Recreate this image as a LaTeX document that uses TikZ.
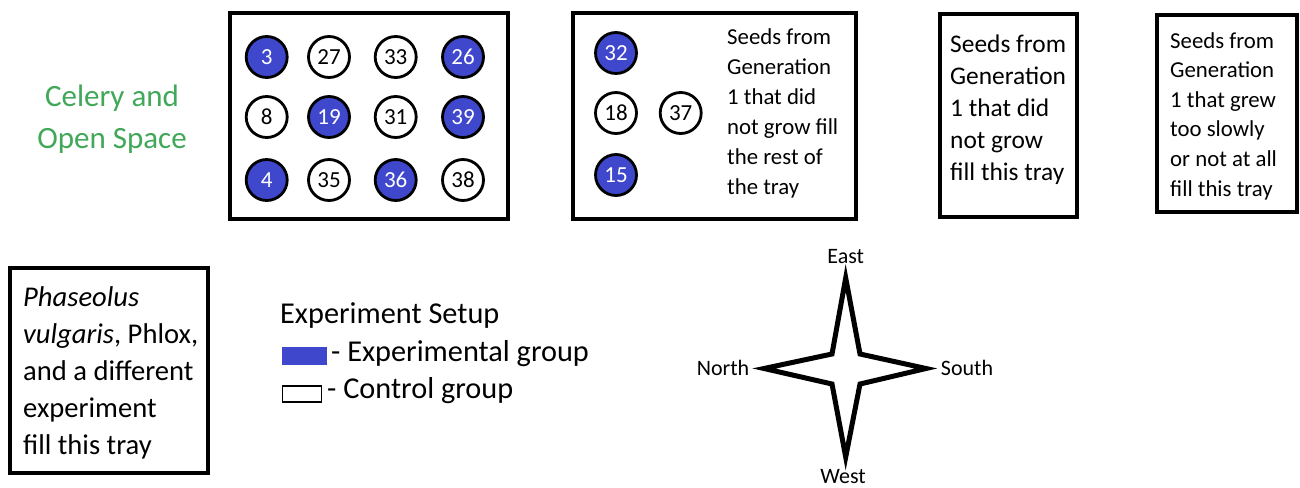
\documentclass[tikz,border=0pt]{standalone}
\usepackage{fontspec}
\setmainfont{Carlito}
\definecolor{expblue}{RGB}{63,72,204}
\definecolor{celgreen}{RGB}{64,168,88}
\tikzset{
  tray/.style={draw=black, line width=3.8pt},
  expc/.style={circle, draw=black, line width=2.8pt, fill=expblue, text=white, minimum size=41pt, inner sep=0pt, font=\fontsize{23}{23}\selectfont},
  ctlc/.style={circle, draw=black, line width=2.8pt, fill=white, text=black, minimum size=41pt, inner sep=0pt, font=\fontsize{23}{23}\selectfont},
  txt/.style={anchor=west, inner sep=0pt, align=left},
  legtxt/.style={txt, font=\fontsize{30.3}{30}\selectfont},
}
\begin{document}
\begin{tikzpicture}[x=1pt,y=-1pt]
\useasboundingbox[fill=white] (0,0) rectangle (1300,487);
% trays
\draw[tray] (230,13) rectangle (508,219);
\draw[tray] (573,13) rectangle (856,219);
\draw[tray] (940,14) rectangle (1077,217);
\draw[tray] (1157,15) rectangle (1297,212);
\draw[tray] (10,268) rectangle (208,473);
% tray 1 circles
\node[expc] (c3)  at (266.7,57) {3};
\node[ctlc] (c27) at (329,57) {27};
\node[ctlc] (c33) at (395.7,57) {33};
\node[expc] (c26) at (463,57) {26};
\node[ctlc] (c8)  at (266.7,117) {8};
\node[expc] (c19) at (329,117) {19};
\node[ctlc] (c31) at (395.7,117) {31};
\node[expc] (c39) at (463,117) {39};
\node[expc] (c4)  at (266.7,180) {4};
\node[ctlc] (c35) at (329,180) {35};
\node[expc] (c36) at (395.7,180) {36};
\node[ctlc] (c38) at (463,180) {38};
% tray 2 circles
\node[expc] (c32) at (616,53) {32};
\node[ctlc] (c18) at (616,113) {18};
\node[ctlc] (c37) at (680.7,113) {37};
\node[expc] (c15) at (616,175) {15};
% texts
\node[text=celgreen, align=center, font=\fontsize{31}{42}\selectfont] (cel) at (112,119) {Celery and\\Open Space};
\node[txt, font=\fontsize{22.8}{30}\selectfont] (t2) at (727,113) {Seeds from\\Generation\\1 that did\\not grow fill\\the rest of\\the tray};
\node[txt, font=\fontsize{25.4}{32}\selectfont] (t3) at (950,110) {Seeds from\\Generation\\1 that did\\not grow\\fill this tray};
\node[txt, font=\fontsize{22.8}{29.6}\selectfont] (t4) at (1170,116) {Seeds from\\Generation\\1 that grew\\too slowly\\or not at all\\fill this tray};
\node[txt, font=\fontsize{28.6}{37}\selectfont] (t5) at (23,372.5) {\textit{Phaseolus}\\\textit{vulgaris}, Phlox,\\and a different\\experiment\\fill this tray};
% legend
\node[legtxt] (lt) at (280,316) {Experiment Setup};
\node[draw=expblue, fill=expblue, minimum width=44pt, minimum height=17pt, inner sep=0pt] (lb) at (304,355.5) {};
\node[draw=black, line width=1.6pt, fill=white, minimum width=39pt, minimum height=16pt, inner sep=0pt] (lw) at (302,394) {};
\node[legtxt] (le) at (331,354) {- Experimental group};
\node[legtxt] (lc) at (327,391) {- Control group};
% compass
\draw[line width=5pt, line join=miter, miter limit=10]
  (845.7,278) -- (832,354) -- (764,368.5) -- (832,384) -- (845.7,457)
  -- (860,384) -- (926,368.5) -- (860,354) -- cycle;
\node[font=\fontsize{22}{22}\selectfont] (ne) at (845.7,257) {East};
\node[font=\fontsize{22}{22}\selectfont] (nw) at (843,477) {West};
\node[font=\fontsize{22}{22}\selectfont] (nn) at (723,368) {North};
\node[font=\fontsize{22}{22}\selectfont] (ns) at (967,368) {South};
\end{tikzpicture}
\end{document}
